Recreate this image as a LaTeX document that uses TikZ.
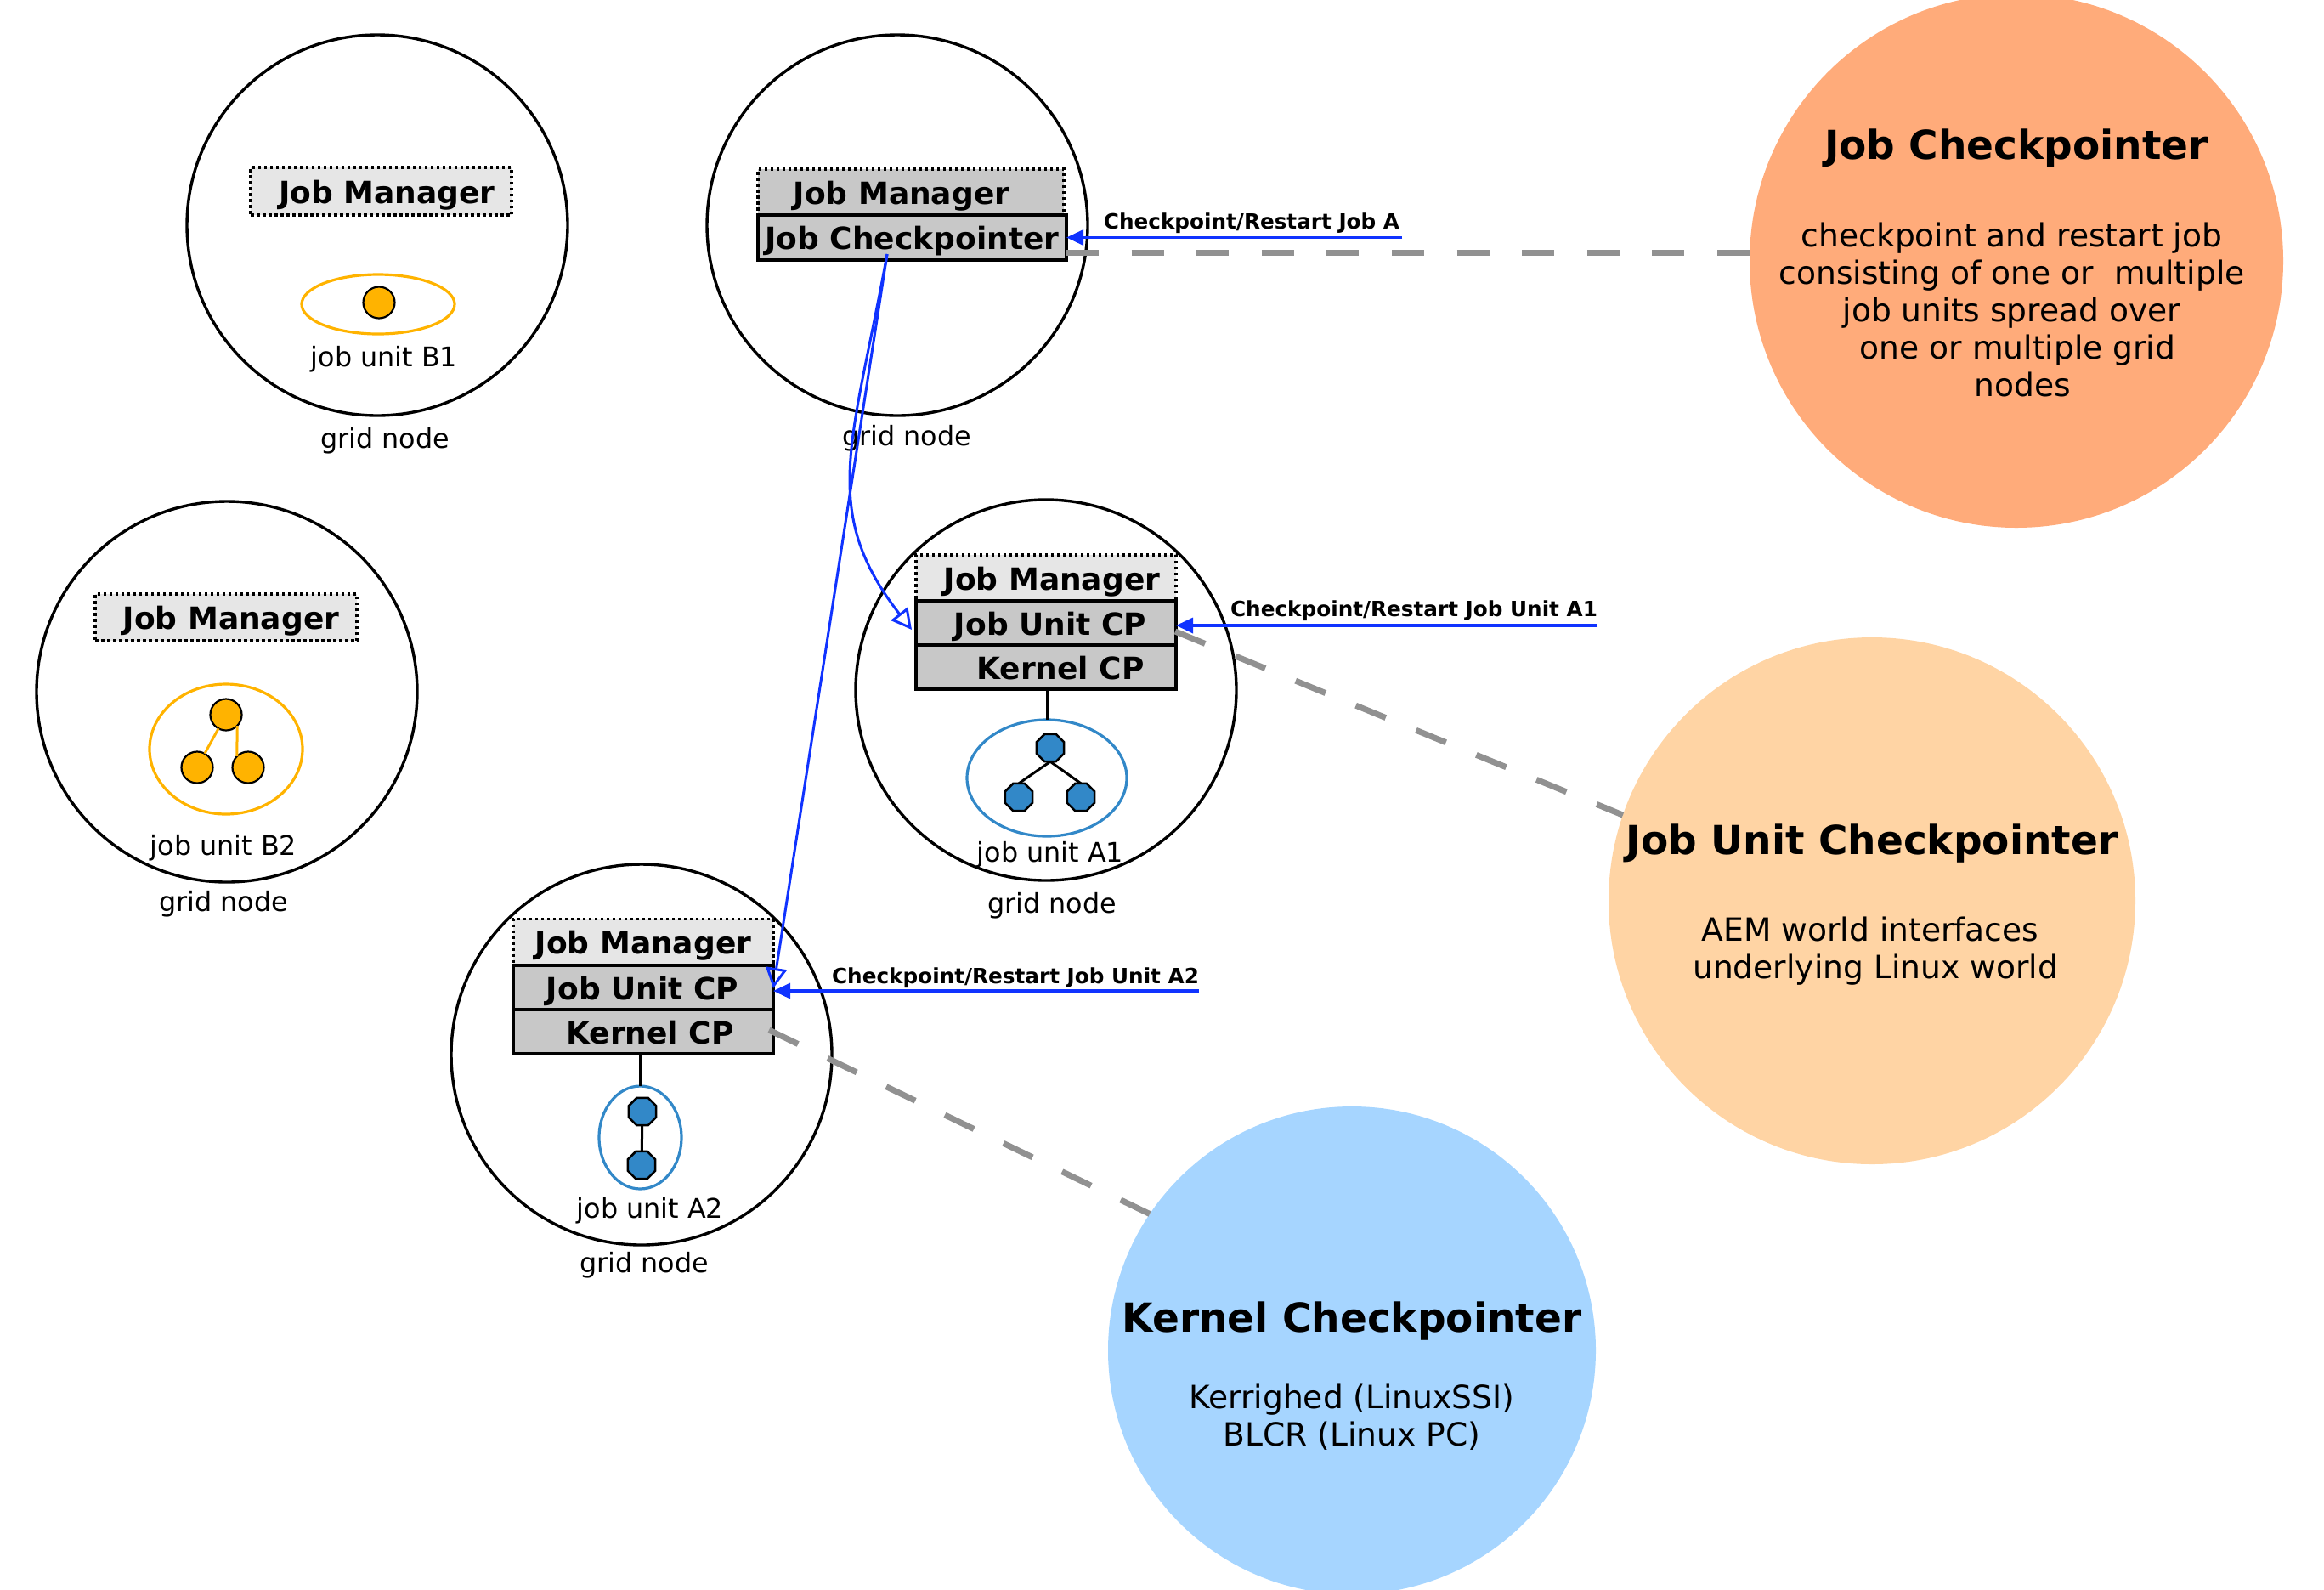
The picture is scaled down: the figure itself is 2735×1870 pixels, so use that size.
\documentclass[tikz,border=0pt]{standalone}
\usepackage{fontspec}
\setmainfont{DejaVu Sans}
\usetikzlibrary{arrows.meta,shapes.geometric}
\definecolor{bigjob}{HTML}{FFAB7A}
\definecolor{bigunit}{HTML}{FFD4A4}
\definecolor{bigkern}{HTML}{A6D5FF}
\definecolor{amberc}{HTML}{FFB300}
\definecolor{bluec}{HTML}{3288C8}
\definecolor{arrowc}{HTML}{1033FF}
\definecolor{dashc}{HTML}{919191}
\definecolor{mgrlight}{HTML}{E6E6E6}
\definecolor{boxgrey}{HTML}{C8C8C8}
\tikzset{
  every node/.style={inner sep=0pt,outer sep=0pt},
  gridcircle/.style={circle,draw=black,line width=1.7pt,minimum size=224pt},
  bigcircle/.style={circle,fill=#1,minimum size=1pt},
  boxbase/.style={minimum width=153pt,minimum height=27pt,text height=15.6pt,text depth=1.4pt,font=\fontsize{18}{21}\selectfont\bfseries},
  mgrbox/.style={boxbase,fill=mgrlight,draw=black,line width=1.7pt,dash pattern=on 1.75pt off 1.75pt},
  mgrdark/.style={mgrbox,fill=boxgrey},
  cpbox/.style={boxbase,fill=boxgrey,draw=black,line width=1.9pt},
  smalltxt/.style={font=\fontsize{15.9}{18}\selectfont},
  reqtxt/.style={font=\fontsize{12.35}{14}\selectfont\bfseries},
  titletxt/.style={font=\fontsize{23.5}{28}\selectfont\bfseries},
  bodytxt/.style={align=center,font=\fontsize{18.8}{21.9}\selectfont},
  unitellipse/.style={ellipse,draw=#1,line width=1.6pt},
  amberdot/.style={circle,fill=amberc,draw=black,line width=1.1pt,minimum size=18.5pt},
  bluedot/.style={regular polygon,regular polygon sides=8,fill=bluec,draw=black,line width=1.3pt,minimum size=17.5pt},
  treeline/.style={draw=black,line width=1.5pt},
  amberline/.style={draw=amberc,line width=1.5pt},
  reqarrow/.style={draw=arrowc,line width=1.7pt,-{Triangle[length=10pt,width=9pt,fill=arrowc]}},
  cparrow/.style={draw=arrowc,line width=1.5pt,-{Triangle[open,length=12pt,width=12.5pt]}},
  greydash/.style={draw=dashc,line width=3.5pt,dash pattern=on 19pt off 19.3pt},
}
\begin{document}
\begin{tikzpicture}[x=0.5pt,y=-0.5pt]
\useasboundingbox (0,0) rectangle (2735,1870);
\clip (0,0) rectangle (2735,1870);

% big explanatory circles
\node[bigcircle=bigjob,minimum size=314pt] (bigJ) at (2373,307) {};
\node[bigcircle=bigunit,minimum size=310pt] (bigU) at (2203,1060) {};
\node[bigcircle=bigkern,minimum size=287pt] (bigK) at (1591,1589) {};

% grid nodes
\node[gridcircle] (gB1) at (444,265) {};
\node[gridcircle] (gA)  at (1056,265) {};
\node[gridcircle] (gB2) at (267,814) {};
\node[gridcircle] (gA1) at (1231,812) {};
\node[gridcircle] (gA2) at (755,1241) {};

\node[smalltxt] (lB1) at (453,519) {grid node};
\node[smalltxt] (lA)  at (1067,516) {grid node};
\node[smalltxt] (lB2) at (263,1064) {grid node};
\node[smalltxt] (lA1) at (1238,1066) {grid node};
\node[smalltxt] (lA2) at (758,1489) {grid node};

% node B1
\node[mgrbox,minimum width=153.5pt,minimum height=28pt] (jmB1) at (448.5,225) {\hspace*{7pt}Job Manager};
\node[unitellipse=amberc,minimum width=90pt,minimum height=35pt] (uB1) at (445,358) {};
\node[amberdot] (dB1) at (446,356) {};
\node[smalltxt] (tB1) at (452,423) {job unit B1};

% node B2
\node[mgrbox,minimum width=154pt,minimum height=27.5pt] (jmB2) at (266,726.5) {\hspace*{6pt}Job Manager};
\node[unitellipse=amberc,minimum width=90pt,minimum height=76.5pt] (uB2) at (266,881.5) {};
\node[amberdot] (dB2a) at (266,841) {};
\node[amberdot] (dB2b) at (232,903) {};
\node[amberdot] (dB2c) at (292,903) {};
\draw[amberline] (dB2a) -- (dB2b);
\draw[amberline] (dB2a.-45) -- (dB2c.135);
\node[smalltxt] (tB2) at (263,998) {job unit B2};

% node A (job checkpointer)
\node[mgrdark,minimum width=180pt] (jmA) at (1072,226) {Job Manager\hspace*{11pt}};
\node[cpbox,minimum width=181.5pt,minimum height=26.3pt] (jcA) at (1073.5,279.3) {Job Checkpointer};

% node A1
\node[mgrbox] (jmA1) at (1231,680) {\hspace*{7pt}Job Manager};
\node[cpbox,minimum height=26pt] (juA1) at (1231,733) {\hspace*{5pt}Job Unit CP};
\node[cpbox,minimum height=26pt] (kcA1) at (1231,785) {\hspace*{17pt}Kernel CP};
\node[unitellipse=bluec,minimum width=94pt,minimum height=68.5pt] (uA1) at (1232,915.5) {};
\node[bluedot] (dA1a) at (1236,880) {};
\node[bluedot] (dA1b) at (1199,938) {};
\node[bluedot] (dA1c) at (1272,938) {};
\draw[treeline] (dA1a.south) -- (dA1b.north);
\draw[treeline] (dA1a.south) -- (dA1c.north);
\draw[treeline] (kcA1.south -| uA1.north) -- (uA1.north);
\node[smalltxt] (tA1) at (1236,1006) {job unit A1};

% node A2
\node[mgrbox] (jmA2) at (757,1108.5) {Job Manager};
\node[cpbox,minimum height=26pt] (juA2) at (757,1162) {Job Unit CP\hspace*{1pt}};
\node[cpbox,minimum height=26pt] (kcA2) at (757,1214) {\hspace*{8pt}Kernel CP};
\node[unitellipse=bluec,minimum width=48.5pt,minimum height=60.5pt] (uA2) at (753.5,1338.5) {};
\node[bluedot] (dA2a) at (756,1308) {};
\node[bluedot] (dA2b) at (755,1371) {};
\draw[treeline] (dA2a) -- (dA2b);
\draw[treeline] (kcA2.south -| uA2.north) -- (uA2.north);
\node[smalltxt] (tA2) at (765,1425) {job unit A2};

% dashed explanatory connectors
\coordinate (dashA) at (1255,297);
\coordinate (dashU) at (1383,743);
\coordinate (dashK) at (905,1212);
\draw[greydash] (dashA) -- (dashA -| bigJ.178);
\draw[greydash] (dashU) -- (bigU.161.7);
\draw[greydash] (dashK) -- (bigK.146);

% request arrows
\coordinate (reqA) at (1650,279.5);
\coordinate (reqU) at (1880,736);
\coordinate (reqK) at (1411,1166);
\draw[reqarrow] (reqA) -- (reqA -| jcA.east);
\draw[reqarrow] (reqU) -- (reqU -| juA1.east);
\draw[reqarrow] (reqK) -- (reqK -| juA2.east);
\node[reqtxt] (rqA) at (1473,263) {Checkpoint/Restart Job A};
\node[reqtxt] (rqU) at (1664,719) {Checkpoint/Restart Job Unit A1};
\node[reqtxt] (rqK) at (1195,1151) {Checkpoint/Restart Job Unit A2};

% coordination arrows
\coordinate (jcOut) at (1044,299);
\coordinate (a1In) at (1073,741);
\coordinate (a2In) at (910,1163);
\draw[cparrow] (jcOut) .. controls (1004,520) and (963,600) .. (a1In);
\draw[cparrow] (jcOut) -- (a2In);

% big circle texts
\node[titletxt] (ttJ) at (2373,174.5) {Job Checkpointer};
\node[bodytxt] (bdJ) at (2367.5,364.5) {checkpoint and restart job\\consisting of one or \ multiple\\job units spread over\\\hspace*{7pt}one or multiple grid\\\hspace*{13pt}nodes};
\node[titletxt] (ttU) at (2203,992.5) {Job Unit Checkpointer};
\node[bodytxt] (bdU) at (2206,1119) {AEM world interfaces\hspace*{5pt}\\\hspace*{1pt}underlying Linux world};
\node[titletxt] (ttK) at (1591,1555) {Kernel Checkpointer};
\node[bodytxt] (bdK) at (1591,1668) {Kerrighed (LinuxSSI)\\BLCR (Linux PC)};
\end{tikzpicture}
\end{document}
